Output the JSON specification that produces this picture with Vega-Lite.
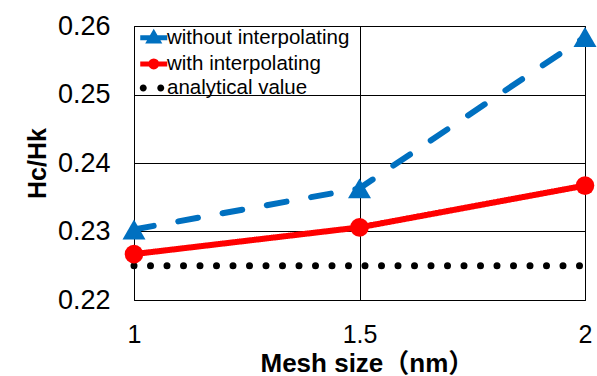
{
  "$schema": "https://vega.github.io/schema/vega-lite/v6.json",
  "width": 451,
  "height": 274,
  "autosize": {"type": "none"},
  "padding": {"left": 134, "top": 26, "right": 12, "bottom": 76},
  "background": "white",
  "config": {
    "view": {"stroke": "black", "strokeWidth": 1},
    "font": "Liberation Sans"
  },
  "data": {
    "values": [
      {"series": "without interpolating", "size": 1, "value": 0.2303},
      {"series": "without interpolating", "size": 1.5, "value": 0.2363},
      {"series": "without interpolating", "size": 2, "value": 0.2584},
      {"series": "with interpolating", "size": 1, "value": 0.2267},
      {"series": "with interpolating", "size": 1.5, "value": 0.2306},
      {"series": "with interpolating", "size": 2, "value": 0.2367},
      {"series": "analytical value", "size": 1, "value": 0.225},
      {"series": "analytical value", "size": 2, "value": 0.225}
    ]
  },
  "encoding": {
    "x": {
      "field": "size",
      "type": "quantitative",
      "scale": {"domain": [1, 2], "nice": false, "zero": false},
      "axis": {
        "values": [1, 1.5, 2],
        "labelExpr": "'' + datum.value",
        "labelFontSize": 25,
        "labelFont": "Liberation Sans",
        "labelColor": "black",
        "labelPadding": 22,
        "labelFlush": false,
        "ticks": false,
        "domain": false,
        "grid": true,
        "gridColor": "black",
        "gridOpacity": 1,
        "gridWidth": 1,
        "title": "Mesh size（nm）",
        "titleFont": "Liberation Sans, Noto Sans CJK JP",
        "titleFontSize": 26,
        "titleFontWeight": "bold",
        "titleColor": "black",
        "titleAlign": "left",
        "titleX": 126,
        "titlePadding": 3
      }
    },
    "y": {
      "field": "value",
      "type": "quantitative",
      "scale": {"domain": [0.22, 0.26], "nice": false, "zero": false},
      "axis": {
        "values": [0.22, 0.23, 0.24, 0.25, 0.26],
        "format": ".2f",
        "labelFontSize": 27,
        "labelFont": "Liberation Sans",
        "labelColor": "black",
        "labelPadding": 24,
        "ticks": false,
        "domain": false,
        "grid": true,
        "gridColor": "black",
        "gridOpacity": 1,
        "gridWidth": 1,
        "title": "Hc/Hk",
        "titleFont": "Liberation Sans",
        "titleFontSize": 25,
        "titleFontWeight": "bold",
        "titleColor": "black",
        "titlePadding": 7
      }
    },
    "color": {
      "field": "series",
      "type": "nominal",
      "scale": {
        "domain": ["without interpolating", "with interpolating", "analytical value"],
        "range": ["#0070C0", "#FF0000", "#000000"]
      },
      "legend": {
        "title": null,
        "orient": "none",
        "legendX": 9.5,
        "legendY": 1.5,
        "padding": 0,
        "labelFontSize": 20.5,
        "labelFont": "Liberation Sans",
        "labelColor": "black",
        "labelLimit": 400,
        "symbolSize": 400,
        "labelOffset": 3,
        "rowPadding": -0.8,
        "symbolStrokeWidth": 5,
        "encode": {
          "symbols": {
            "update": {
              "shape": {"signal": "datum.value === 'without interpolating' ? 'M-1.35,0H1.35M0,-0.4L0.42,0.32L-0.42,0.32Z' : datum.value === 'with interpolating' ? 'M-1.35,0H1.35M-0.3,0A0.3,0.3,0,1,0,0.3,0A0.3,0.3,0,1,0,-0.3,0Z' : 'M-1.4,0A0.35,0.35,0,1,0,-0.7,0A0.35,0.35,0,1,0,-1.4,0ZM0.35,0A0.35,0.35,0,1,0,1.05,0A0.35,0.35,0,1,0,0.35,0Z'"},
              "fill": {"signal": "datum.value === 'without interpolating' ? '#0070C0' : datum.value === 'with interpolating' ? '#FF0000' : '#000000'"},
              "stroke": {"signal": "datum.value === 'without interpolating' ? '#0070C0' : datum.value === 'with interpolating' ? '#FF0000' : '#000000'"},
              "strokeWidth": {"signal": "datum.value === 'analytical value' ? 0 : 5"},
              "opacity": {"value": 1},
              "fillOpacity": {"value": 1},
              "strokeOpacity": {"value": 1}
            }
          }
        }
      }
    }
  },
  "layer": [
    {
      "transform": [{"filter": "datum.series === 'analytical value'"}],
      "mark": {"type": "line", "strokeWidth": 7, "strokeCap": "round", "strokeDash": [0, 16.5]}
    },
    {
      "transform": [{"filter": "datum.series !== 'analytical value'"}],
      "mark": {"type": "line", "strokeWidth": 6, "strokeCap": "round"},
      "encoding": {
        "strokeDash": {
          "field": "series",
          "type": "nominal",
          "scale": {
            "domain": ["without interpolating", "with interpolating"],
            "range": [[20, 25], [1, 0]]
          },
          "legend": null
        }
      }
    },
    {
      "transform": [{"filter": "datum.series !== 'analytical value'"}],
      "mark": {"type": "point", "filled": true, "opacity": 1},
      "encoding": {
        "shape": {
          "field": "series",
          "type": "nominal",
          "scale": {
            "domain": ["without interpolating", "with interpolating"],
            "range": ["triangle-up", "circle"]
          },
          "legend": null
        },
        "size": {
          "field": "series",
          "type": "nominal",
          "scale": {
            "domain": ["without interpolating", "with interpolating"],
            "range": [529, 346]
          },
          "legend": null
        }
      }
    }
  ]
}
